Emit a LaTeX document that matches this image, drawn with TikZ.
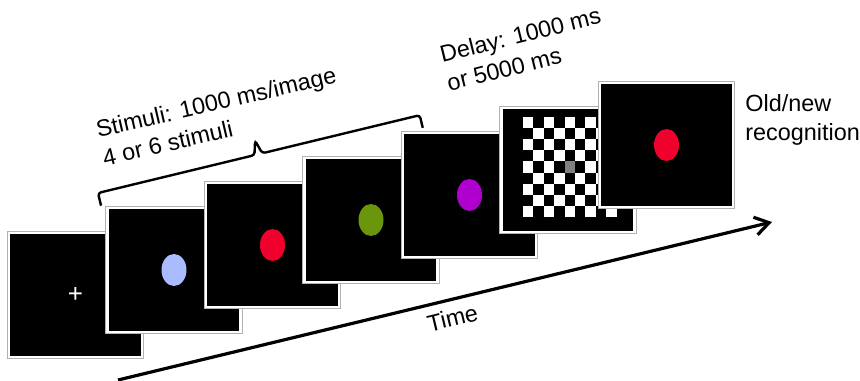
\documentclass[tikz,border=0pt]{standalone}
\usepackage{fontspec}
\setmainfont{Liberation Sans}
\usepackage{tikz}
\usetikzlibrary{shapes,calc,arrows.meta}
\definecolor{stimblue}{RGB}{168,188,255}
\definecolor{stimred}{RGB}{240,0,45}
\definecolor{stimgreen}{RGB}{105,150,10}
\definecolor{stimpurple}{RGB}{175,0,205}

\begin{document}
\begin{tikzpicture}[x=0.5pt, y=-0.5pt, screen/.style={rectangle, fill=black, draw=white, line width=1.4pt, preaction={draw=gray!60, line width=2.4pt}, minimum width=66.5pt, minimum height=62pt, inner sep=0pt}, dot/.style={ellipse, minimum width=12.5pt, minimum height=16pt, inner sep=0pt}, label node/.style={font=\fontsize{11.7}{14.5}\selectfont, inner sep=0pt}]
\useasboundingbox (0,0) rectangle (860,380);
\node[screen] (1) at (75.5,295) {};
\node[white, font=\fontsize{13}{13}\selectfont, inner sep=0pt] (cross) at (1) {+};
\node[screen] (2) at (174,270) {};
\node[dot, fill=stimblue] (d2) at (2) {};
\node[screen] (3) at (272.5,245) {};
\node[dot, fill=stimred] (d3) at (3) {};
\node[screen] (4) at (371,220) {};
\node[dot, fill=stimgreen] (d4) at (4) {};
\node[screen] (5) at (469.5,195) {};
\node[dot, fill=stimpurple] (d5) at (5) {};
\node[screen] (6) at (568,170) {};
\foreach \j in {0,2,...,8} \foreach \i in {0,2,...,8} \fill[white] ({523+10.4*\i},{117+11.1*\j}) rectangle +(10.4,11.1);
\foreach \j in {1,3,...,7} \foreach \i in {1,3,...,7} \fill[white] ({523+10.4*\i},{117+11.1*\j}) rectangle +(10.4,11.1);
\fill[gray] ({523+10.4*4},{117+11.1*4}) rectangle +(10.4,11.1);
\node[screen] (7) at (666.5,145) {};
\node[dot, fill=stimred] (d7) at (7) {};
\node[label node, anchor=base west, rotate=13] (stim) at (98,138) {\begin{tabular}[t]{@{}l@{}}Stimuli: 1000 ms/image\\4 or 6 stimuli\end{tabular}};
\node[label node, anchor=base west, rotate=14] (delay) at (442,63) {\begin{tabular}[t]{@{}l@{}}Delay: 1000 ms\\or 5000 ms\end{tabular}};
\node[label node, anchor=base west] (recog) at (745,111) {\begin{tabular}[t]{@{}l@{}}Old/new\\recognition\end{tabular}};
\draw[line width=1.2pt, rounded corners=1.5pt, shift={(98,193)}, rotate=13.6] (0,13) -- (0,0) -- (161,0) -- (165,-14) -- (169,0) -- (331,0) -- (331,13);
\coordinate (t0) at (118,380);
\coordinate (t1) at (772,222);
\draw[line width=1.6pt, -{Straight Barb[length=7pt, width=9pt]}] (t0) -- node[pos=0.505, below=4pt, sloped, label node] (time) {Time} (t1);
\end{tikzpicture}
\end{document}
